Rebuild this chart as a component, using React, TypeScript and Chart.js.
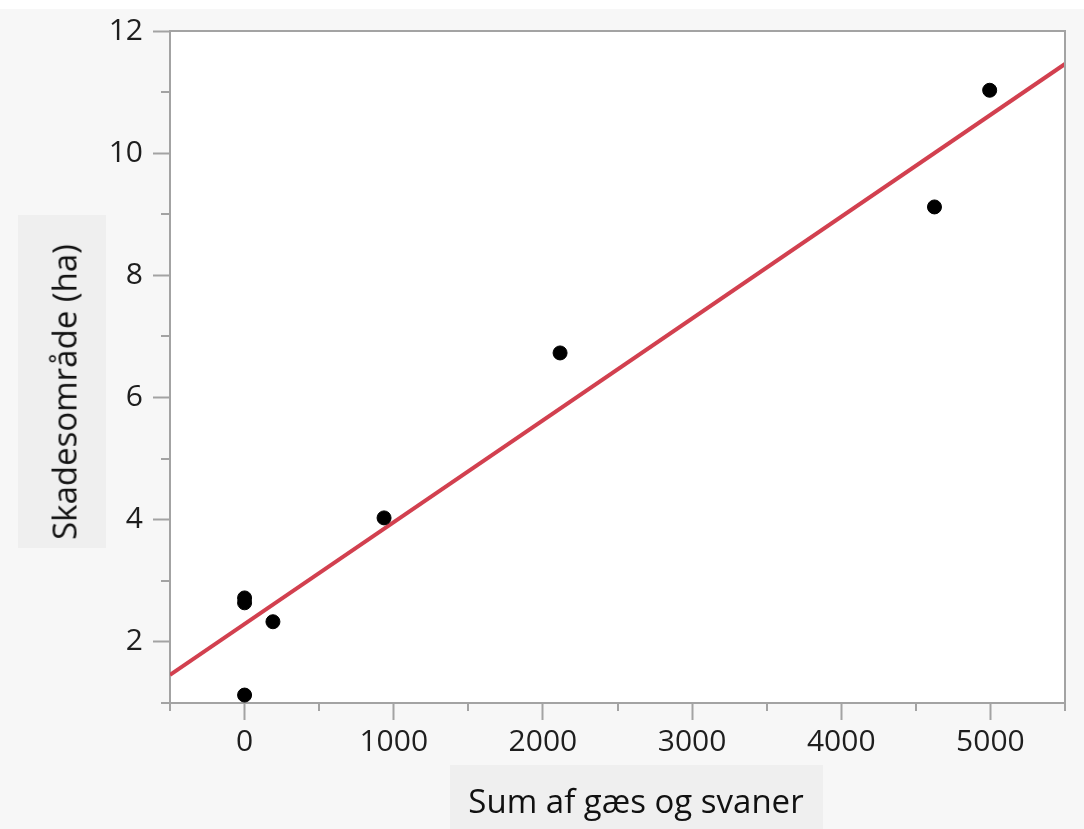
import React, { useEffect, useRef } from "react";
import { Chart, registerables } from "chart.js";

Chart.register(...registerables);

// Observations: sum of geese and swans vs. damaged area (ha)
const geeseAndSwans = [0, 0, 0, 190, 935, 2115, 4625, 4995];
const damageArea = [2.72, 2.64, 1.13, 2.33, 4.03, 6.73, 9.12, 11.03];

// Fitted regression line endpoints
const fitX = [-500, 5500];
const fitY = [1.46, 11.46];

// Axis ranges and labelled ticks
const xRange = [-500, 5500];
const yRange = [1, 12];
const xTickLabels = [0, 1000, 2000, 3000, 4000, 5000];
const yTickLabels = [2, 4, 6, 8, 10, 12];

const xTitle = "Sum af gæs og svaner";
const yTitle = "Skadesområde (ha)";

const AXIS_GRAY = "#a3a3a3";
const FONT = "'Open Sans', 'Noto Sans', sans-serif";

const framePlugin = {
  id: "frame",
  beforeDraw(chart: any) {
    const { ctx, chartArea: a } = chart;
    ctx.save();
    ctx.fillStyle = "#ffffff";
    ctx.fillRect(a.left, a.top, a.right - a.left, a.bottom - a.top);
    ctx.restore();
  },
  afterDraw(chart: any) {
    const { ctx, chartArea: a } = chart;
    const xs = chart.scales.x;
    const ys = chart.scales.y;
    ctx.save();
    ctx.strokeStyle = AXIS_GRAY;
    ctx.lineWidth = 2;
    ctx.beginPath();
    ctx.moveTo(a.left, a.top);
    ctx.lineTo(a.right, a.top);
    ctx.lineTo(a.right, a.bottom);
    ctx.stroke();
    // minor ticks
    ctx.beginPath();
    xs.ticks.forEach((t: any) => {
      if (!xTickLabels.includes(t.value)) {
        const px = Math.round(xs.getPixelForValue(t.value));
        ctx.moveTo(px, a.bottom);
        ctx.lineTo(px, a.bottom + 8);
      }
    });
    ys.ticks.forEach((t: any) => {
      if (!yTickLabels.includes(t.value)) {
        const py = Math.round(ys.getPixelForValue(t.value));
        ctx.moveTo(a.left, py);
        ctx.lineTo(a.left - 9, py);
      }
    });
    ctx.stroke();
    ctx.restore();
  },
};

export default function App() {
  const canvasRef = useRef<HTMLCanvasElement | null>(null);

  useEffect(() => {
    const canvas = canvasRef.current;
    if (!canvas) return;
    const chart = new Chart(canvas, {
      type: "scatter",
      data: {
        datasets: [
          {
            type: "scatter",
            label: "Observationer",
            data: geeseAndSwans.map((x, i) => ({ x, y: damageArea[i] })),
            backgroundColor: "#000000",
            borderColor: "#000000",
            pointRadius: 7,
            pointHoverRadius: 7,
            order: 0,
          },
          {
            type: "line",
            label: "Fit",
            data: fitX.map((x, i) => ({ x, y: fitY[i] })),
            borderColor: "#d2404f",
            borderWidth: 4,
            pointRadius: 0,
            fill: false,
            order: 1,
          } as any,
        ],
      },
      options: {
        responsive: false,
        animation: false,
        devicePixelRatio: 1,
        layout: { padding: { top: 31, right: 19, left: 0, bottom: 0 } },
        plugins: {
          legend: { display: false },
          tooltip: { enabled: false },
          title: { display: false },
        },
        scales: {
          x: {
            type: "linear",
            min: xRange[0],
            max: xRange[1],
            afterFit: (s: any) => {
              s.height = 126;
            },
            ticks: {
              stepSize: 500,
              autoSkip: false,
              maxRotation: 0,
              padding: 4,
              color: "#1e1e1e",
              font: { family: FONT, size: 30 },
              callback: (v: any) => (xTickLabels.includes(Number(v)) ? String(v) : ""),
            },
            grid: {
              drawOnChartArea: false,
              drawTicks: true,
              tickLength: 17,
              tickWidth: 2,
              tickColor: (c: any) =>
                c.tick && xTickLabels.includes(c.tick.value) ? AXIS_GRAY : "rgba(0,0,0,0)",
            },
            border: { display: true, color: AXIS_GRAY, width: 2 },
          },
          y: {
            type: "linear",
            min: yRange[0],
            max: yRange[1],
            afterFit: (s: any) => {
              s.width = 170;
            },
            ticks: {
              stepSize: 1,
              autoSkip: false,
              padding: 10,
              color: "#1e1e1e",
              font: { family: FONT, size: 30 },
              callback: (v: any) => (yTickLabels.includes(Number(v)) ? String(v) : ""),
            },
            grid: {
              drawOnChartArea: false,
              drawTicks: true,
              tickLength: 17,
              tickWidth: 2,
              tickColor: (c: any) =>
                c.tick && yTickLabels.includes(c.tick.value) ? AXIS_GRAY : "rgba(0,0,0,0)",
            },
            border: { display: true, color: AXIS_GRAY, width: 2 },
          },
        },
      },
      plugins: [framePlugin],
    });
    return () => chart.destroy();
  }, []);

  return (
    <div
      style={{
        position: "absolute",
        left: 0,
        top: 0,
        width: 1084,
        height: 829,
        background: "#f7f7f7",
        overflow: "hidden",
        fontFamily: FONT,
      }}
    >
      <div style={{ position: "absolute", left: 0, top: 0, width: 1084, height: 9, background: "#ffffff" }} />
      <div
        style={{
          position: "absolute",
          left: 18,
          top: 215,
          width: 88,
          height: 333,
          background: "#efefef",
        }}
      />
      <div
        style={{
          position: "absolute",
          left: 450,
          top: 765,
          width: 373,
          height: 64,
          background: "#efefef",
        }}
      />
      <canvas
        ref={canvasRef}
        width={1084}
        height={829}
        style={{ position: "absolute", left: 0, top: 0, width: 1084, height: 829 }}
      />
      <div
        style={{
          position: "absolute",
          left: 636,
          top: 800,
          transform: "translate(-50%, -50%)",
          whiteSpace: "nowrap",
          fontSize: 33,
          color: "#111111",
        }}
      >
        {xTitle}
      </div>
      <div
        style={{
          position: "absolute",
          left: 64,
          top: 392,
          transform: "translate(-50%, -50%) rotate(-90deg)",
          whiteSpace: "nowrap",
          fontSize: 33,
          color: "#111111",
        }}
      >
        {yTitle}
      </div>
    </div>
  );
}
